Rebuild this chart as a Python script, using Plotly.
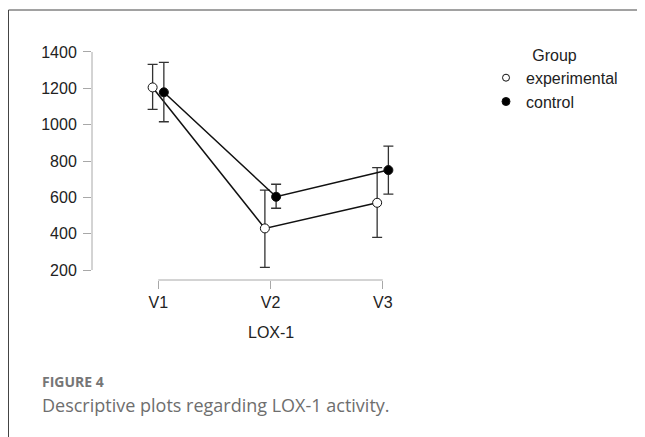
import plotly.graph_objects as go

visits = ["V1", "V2", "V3"]
visit_pos = [1, 2, 3]
y_ticks = [200, 400, 600, 800, 1000, 1200, 1400]

exp_mean = [1205, 429, 570]
exp_upper = [1332, 640, 763]
exp_lower = [1084, 215, 380]

ctl_mean = [1178, 603, 750]
ctl_upper = [1343, 672, 882]
ctl_lower = [1016, 540, 618]

dodge = 0.05

def errs(mean, up, lo):
    return [u - m for m, u in zip(mean, up)], [m - l for m, l in zip(mean, lo)]

eu, el = errs(exp_mean, exp_upper, exp_lower)
cu, cl = errs(ctl_mean, ctl_upper, ctl_lower)

fig = go.Figure()
err_style = dict(type="data", symmetric=False, color="#333333", thickness=1.3, width=5)

fig.add_trace(go.Scatter(
    x=[p - dodge for p in visit_pos], y=exp_mean, mode="lines+markers",
    line=dict(color="#111111", width=1.5),
    marker=dict(size=9, color="white", line=dict(color="#111111", width=1)),
    error_y=dict(array=eu, arrayminus=el, **err_style),
    showlegend=False, cliponaxis=False))
fig.add_trace(go.Scatter(
    x=[p + dodge for p in visit_pos], y=ctl_mean, mode="lines+markers",
    line=dict(color="#111111", width=1.5),
    marker=dict(size=9, color="black", line=dict(color="#111111", width=1)),
    error_y=dict(array=cu, arrayminus=cl, **err_style),
    showlegend=False, cliponaxis=False))

# legend-only entries
fig.add_trace(go.Scatter(x=[None], y=[None], mode="markers", name="experimental",
                         marker=dict(size=7, color="white", line=dict(color="#111111", width=1))))
fig.add_trace(go.Scatter(x=[None], y=[None], mode="markers", name="control",
                         marker=dict(size=8, color="black", line=dict(color="#111111", width=1))))

# page body has an 8px margin; figure is sized to fill the rest of the window
OFF = 8
W, H = 645 - OFF, 437 - OFF
# plot area in page pixels
PL, PR, PT, PB = 92, 449, 40, 280
L, R, T, B = PL - OFF, W - (PR - OFF), PT - OFF, H - (PB - OFF)
pw = PR - PL
ph = PB - PT

def px(xp):
    return (xp - PL) / pw

def py(yp):
    return (PB - yp) / ph

axis_col = "#a8a8a8"
fig.update_layout(
    width=W, height=H, margin=dict(l=L, r=R, t=T, b=B),
    plot_bgcolor="white", paper_bgcolor="white",
    font=dict(family="Liberation Sans, Arial, sans-serif", size=16, color="#222222"),
    xaxis=dict(range=[0.41, 3.59], tickvals=visit_pos, ticktext=visits,
               showline=False, showgrid=False, zeroline=False,
               ticks="outside", ticklen=8, tickcolor=axis_col, tickwidth=1,
               tickfont=dict(size=16, color="#222222")),
    yaxis=dict(range=[145, 1466], tickvals=y_ticks,
               showline=False, showgrid=False, zeroline=False,
               ticks="outside", ticklen=8, tickcolor=axis_col, tickwidth=1,
               ticklabelstandoff=3,
               tickfont=dict(size=16, color="#222222")),
    legend=dict(xref="container", yref="container", x=(486 - OFF) / W, y=1 - (40 - OFF) / H,
                xanchor="left", yanchor="top",
                title=dict(text="Group", side="top center", font=dict(size=16)),
                font=dict(size=16, color="#222222"), itemwidth=30,
                tracegroupgap=0, bgcolor="rgba(0,0,0,0)"),
    shapes=[
        dict(type="line", xref="x", yref="paper", x0=visit_pos[0], x1=visit_pos[-1], y0=0, y1=0,
             line=dict(color=axis_col, width=1)),
        dict(type="line", xref="paper", yref="y", x0=0, x1=0, y0=y_ticks[0], y1=y_ticks[-1],
             line=dict(color=axis_col, width=1)),
        dict(type="line", xref="paper", yref="paper", x0=px(8.5), x1=px(700), y0=py(10), y1=py(10),
             line=dict(color="#444444", width=1)),
        dict(type="line", xref="paper", yref="paper", x0=px(8.5), x1=px(8.5), y0=py(10), y1=py(470),
             line=dict(color="#444444", width=1)),
    ],
    annotations=[
        dict(text="LOX-1", xref="x", yref="paper", x=2, y=py(332), showarrow=False,
             font=dict(size=16, color="#222222"), xanchor="center", yanchor="middle"),
        dict(text="<b>FIGURE 4</b>", xref="paper", yref="paper", x=px(40), y=py(381), showarrow=False,
             font=dict(family="Open Sans, sans-serif", size=14, color="#767676"),
             xanchor="left", yanchor="middle"),
        dict(text="Descriptive plots regarding LOX-1 activity.", xref="paper", yref="paper",
             x=px(40), y=py(405), showarrow=False,
             font=dict(family="Open Sans, sans-serif", size=18, color="#6e6e6e"),
             xanchor="left", yanchor="middle"),
    ],
)

fig.write_html("out.html")
